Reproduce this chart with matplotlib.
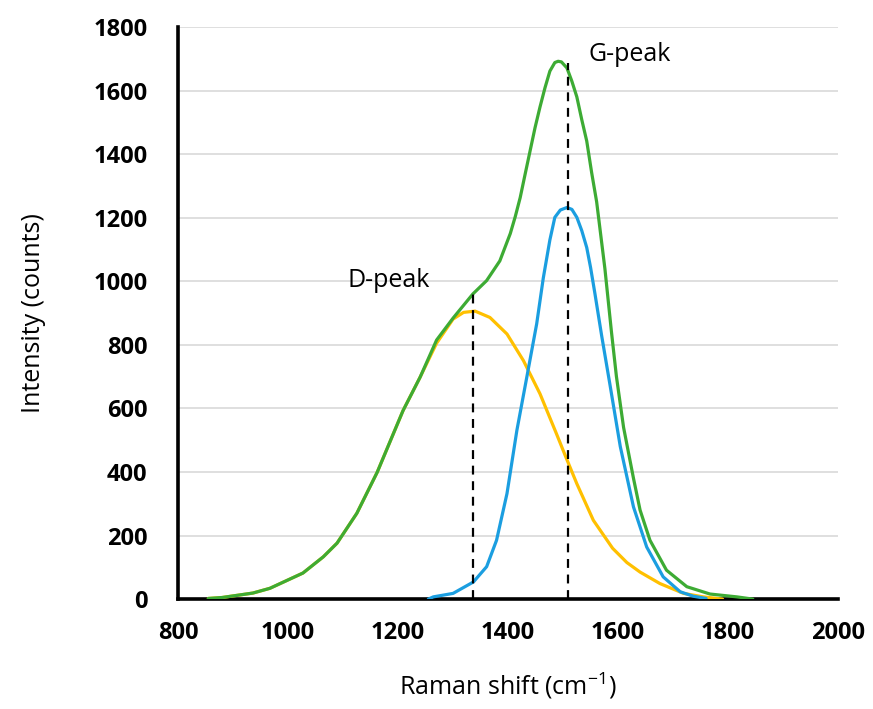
import numpy as np
import matplotlib
matplotlib.use("Agg")
import matplotlib.pyplot as plt

plt.rcParams["font.family"] = ["Open Sans", "DejaVu Sans"]

# (Raman shift in cm^-1, intensity in counts)
total_x = [855, 880, 936, 967, 1027, 1064, 1089, 1125, 1162, 1209, 1240, 1270, 1300,
           1336, 1361, 1385, 1404, 1413, 1422, 1431, 1440, 1449, 1458, 1467, 1476,
           1485, 1491, 1497, 1507, 1516, 1525, 1534, 1543, 1552, 1561, 1576, 1588,
           1597, 1610, 1628, 1640, 1658, 1688, 1725, 1767, 1816, 1845]
total_y = [2, 5, 19, 34, 82, 133, 176, 270, 399, 593, 698, 815, 884,
           960, 1002, 1064, 1150, 1203, 1263, 1337, 1410, 1483, 1548, 1608, 1661,
           1688, 1692, 1690, 1671, 1629, 1580, 1508, 1441, 1341, 1250, 1040, 840,
           700, 540, 380, 280, 185, 91, 39, 16, 7, 0]

d_x = [855, 880, 936, 967, 1027, 1064, 1089, 1125, 1162, 1209, 1240, 1270, 1300,
       1319, 1340, 1367, 1398, 1428, 1458, 1488, 1505, 1525, 1555, 1590, 1616,
       1640, 1676, 1719, 1755, 1790]
d_y = [2, 5, 19, 34, 82, 133, 176, 270, 399, 593, 698, 805, 881,
       902, 906, 886, 834, 750, 646, 520, 447, 363, 248, 160, 115,
       85, 49, 18, 7, 0]

g_x = [1255, 1264, 1300, 1337, 1361, 1379, 1398, 1416, 1434, 1452, 1464, 1476, 1485,
       1495, 1507, 1516, 1525, 1534, 1543, 1550, 1558, 1570, 1585, 1604, 1628, 1652,
       1682, 1713, 1737, 1760]
g_y = [0, 7, 18, 54, 102, 185, 332, 531, 698, 866, 1010, 1130, 1201,
       1224, 1232, 1226, 1201, 1159, 1106, 1043, 960, 830, 677, 480, 290, 164,
       70, 23, 9, 2]

peak_pos = [1336, 1509]
peak_top = [965, 1688]
peak_names = ["D-peak", "G-peak"]
label_xy = [(1182, 1002), (1622, 1714)]

GREEN = "#3dab34"
BLUE = "#1b9ee0"
YELLOW = "#ffc000"

fig = plt.figure(figsize=(8.73, 7.09), dpi=100)
ax = fig.add_axes([0.204, 0.155, 0.756, 0.807])

kw = dict(lw=2.3, solid_joinstyle="round", solid_capstyle="round")
ax.plot(d_x, d_y, color=YELLOW, zorder=3, **kw)
ax.plot(g_x, g_y, color=BLUE, zorder=3, **kw)
ax.plot(total_x, total_y, color=GREEN, zorder=4, **kw)
for xp, yt in zip(peak_pos, peak_top):
    ax.vlines(xp, 0, yt, colors="black", linestyles=(0, (4, 3)), lw=1.6, zorder=5)
for name, (tx, ty) in zip(peak_names, label_xy):
    ax.text(tx, ty, name, fontsize=18, ha="center", va="center")

ax.set_xlim(800, 2000)
ax.set_ylim(0, 1800)
ax.set_xticks(np.arange(800, 2001, 200))
ax.set_yticks(np.arange(0, 1801, 200))
ax.yaxis.grid(True, color="#d9d9d9", lw=1.2)
ax.set_axisbelow(True)
for s in ("top", "right"):
    ax.spines[s].set_visible(False)
for s in ("left", "bottom"):
    ax.spines[s].set_linewidth(2.6)
ax.tick_params(length=0, labelsize=17)
ax.tick_params(axis="x", pad=16)
ax.tick_params(axis="y", pad=22)
for lab in ax.get_xticklabels() + ax.get_yticklabels():
    lab.set_fontweight("bold")
ax.set_xlabel(r"Raman shift (cm$^{\mathregular{-1}}$)", fontsize=18, labelpad=18)
ax.set_ylabel("Intensity (counts)", fontsize=18, labelpad=34)

fig.savefig("out.png", dpi=100)
